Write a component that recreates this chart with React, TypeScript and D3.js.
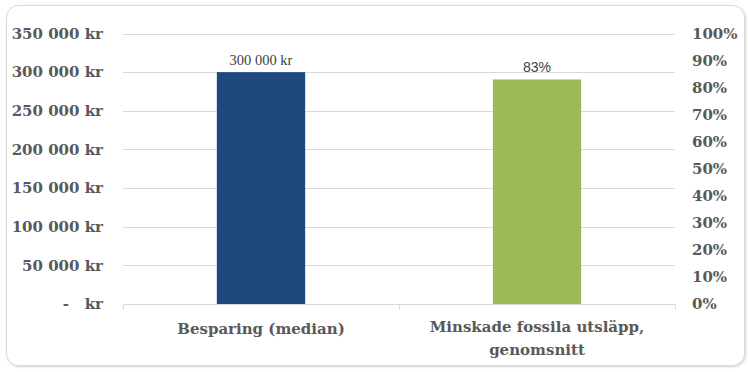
import * as d3 from "d3";
import React, { useEffect, useRef } from "react";

const categories = ["Besparing (median)", "Minskade fossila utsläpp, genomsnitt"];
const categoryLines = [["Besparing (median)"], ["Minskade fossila utsläpp,", "genomsnitt"]];
const savingValues = [300000]; // left axis, kr
const reductionValues = [0.83]; // right axis, share
const leftTicks = [0, 50000, 100000, 150000, 200000, 250000, 300000, 350000];
const rightTicks = [0, 0.1, 0.2, 0.3, 0.4, 0.5, 0.6, 0.7, 0.8, 0.9, 1];

const W = 748;
const H = 372;
const SERIF = "'DejaVu Serif', serif";

const fmtKr = (v: number) =>
  v === 0 ? "-   kr" : d3.format(",")(v).replace(/,/g, " ") + " kr";
const fmtPct = (v: number) => Math.round(v * 100) + "%";

const App = () => {
  const ref = useRef<SVGSVGElement>(null);

  useEffect(() => {
    if (!ref.current) return;
    const svg = d3.select(ref.current);
    svg.selectAll("*").remove();

    const margin = { top: 33.5, right: 73, bottom: 68, left: 123 };
    const x0 = margin.left;
    const x1 = W - margin.right;
    const y0 = H - margin.bottom;
    const y1 = margin.top;

    // ramen runt diagrammet
    const defs = svg.append("defs");
    const f = defs.append("filter").attr("id", "sh").attr("x", "-5%").attr("y", "-5%").attr("width", "110%").attr("height", "110%");
    f.append("feDropShadow").attr("dx", 1).attr("dy", 1).attr("stdDeviation", 1.2).attr("flood-color", "#000").attr("flood-opacity", 0.18);
    svg.append("rect")
      .attr("x", 6.5).attr("y", 5.5).attr("width", 738).attr("height", 360)
      .attr("rx", 12).attr("fill", "#fff").attr("stroke", "#d9d9d9").attr("filter", "url(#sh)");

    const x = d3.scaleBand().domain(categories).range([x0, x1]).paddingInner(0).paddingOuter(0);
    const yL = d3.scaleLinear().domain([0, 350000]).range([y0, y1]);
    const yR = d3.scaleLinear().domain([0, 1]).range([y0, y1]);
    const barW = x.bandwidth() * 0.32;

    // rutnät
    svg.append("g").selectAll("line").data(leftTicks.filter((t) => t > 0)).enter().append("line")
      .attr("x1", x0).attr("x2", x1)
      .attr("y1", (d) => Math.round(yL(d)) + 0.5).attr("y2", (d) => Math.round(yL(d)) + 0.5)
      .attr("stroke", "#d9d9d9").attr("stroke-width", 1);

    // vänster axel
    svg.append("g").selectAll("text").data(leftTicks).enter().append("text")
      .attr("x", 103).attr("y", (d) => yL(d)).attr("dy", "0.35em")
      .attr("text-anchor", "end")
      .attr("font-family", SERIF).attr("font-weight", "bold")
      .attr("font-size", 15).attr("fill", "#595959")
      .attr("xml:space", "preserve").style("white-space", "pre")
      .text((d) => fmtKr(d));

    // höger axel
    svg.append("g").selectAll("text").data(rightTicks).enter().append("text")
      .attr("x", 692).attr("y", (d) => yR(d)).attr("dy", "0.35em")
      .attr("font-family", SERIF).attr("font-weight", "bold")
      .attr("font-size", 15).attr("fill", "#595959")
      .text((d) => fmtPct(d));

    // staplar
    svg.append("rect")
      .attr("x", x(categories[0])! + x.bandwidth() / 2 - barW / 2)
      .attr("y", yL(savingValues[0]))
      .attr("width", barW).attr("height", y0 - yL(savingValues[0]))
      .attr("fill", "#1f497d");
    svg.append("rect")
      .attr("x", x(categories[1])! + x.bandwidth() / 2 - barW / 2)
      .attr("y", yR(reductionValues[0]))
      .attr("width", barW).attr("height", y0 - yR(reductionValues[0]))
      .attr("fill", "#9bbb59");

    // dataetiketter
    svg.append("text")
      .attr("x", x(categories[0])! + x.bandwidth() / 2).attr("y", yL(savingValues[0]) - 7)
      .attr("text-anchor", "middle").attr("font-family", "'Liberation Serif', serif")
      .attr("font-size", 14.5).attr("fill", "#404040")
      .text(fmtKr(savingValues[0]));
    svg.append("text")
      .attr("x", x(categories[1])! + x.bandwidth() / 2).attr("y", yR(reductionValues[0]) - 7)
      .attr("text-anchor", "middle").attr("font-family", "'Liberation Sans', sans-serif")
      .attr("font-size", 14).attr("fill", "#404040")
      .text(fmtPct(reductionValues[0]));

    // x-axel
    const ax = svg.append("g");
    ax.append("line").attr("x1", x0).attr("x2", x1).attr("y1", Math.round(y0) + 0.5).attr("y2", Math.round(y0) + 0.5)
      .attr("stroke", "#d9d9d9");
    ax.selectAll(".tick").data([x0, x0 + x.bandwidth(), x1]).enter().append("line")
      .attr("x1", (d) => Math.round(d) + 0.5).attr("x2", (d) => Math.round(d) + 0.5)
      .attr("y1", Math.round(y0) + 0.5).attr("y2", Math.round(y0) + 5.5)
      .attr("stroke", "#d9d9d9");

    categoryLines.forEach((lines, i) => {
      const t = ax.append("text")
        .attr("x", x(categories[i])! + x.bandwidth() / 2).attr("y", lines.length > 1 ? 332 : 334)
        .attr("text-anchor", "middle")
        .attr("font-family", SERIF).attr("font-weight", "bold")
        .attr("font-size", 15).attr("fill", "#595959");
      lines.forEach((l, j) => {
        t.append("tspan").attr("x", x(categories[i])! + x.bandwidth() / 2).attr("dy", j === 0 ? 0 : 23).text(l);
      });
    });
  }, []);

  return (
    <svg ref={ref} width={W} height={H} style={{ position: "absolute", left: 0, top: 0 }} />
  );
};

export default App;
